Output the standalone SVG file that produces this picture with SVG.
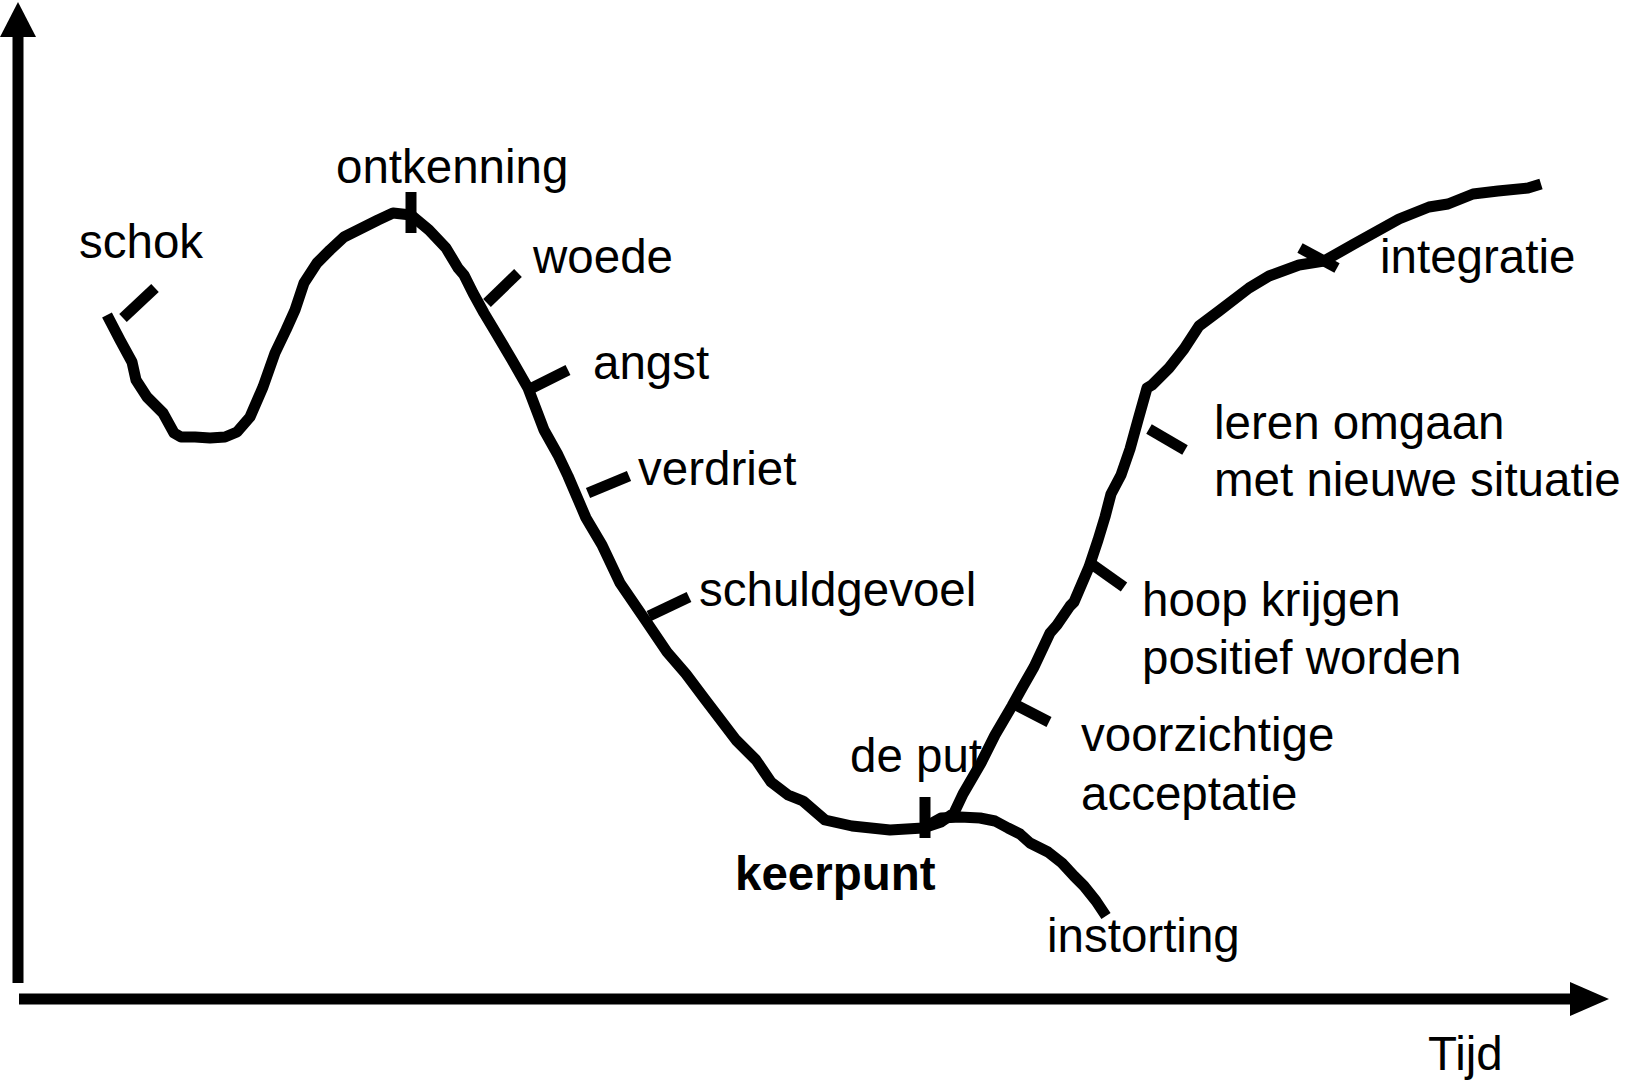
<svg xmlns="http://www.w3.org/2000/svg" width="1632" height="1081" viewBox="0 0 1632 1081">
<style>
.lbl{font-family:"Liberation Sans",Arial,sans-serif;font-size:47.5px;fill:#000}
.bold{font-weight:bold}
.curve{fill:none;stroke:#000;stroke-width:11;stroke-linejoin:round;stroke-linecap:butt}
.tick{stroke:#000;stroke-width:11;stroke-linecap:butt}
.axis{stroke:#000;stroke-width:11}
</style>
<rect width="1632" height="1081" fill="#fff"/>
<g id="labels">
<text class="lbl" x="79" y="258">schok</text>
<text class="lbl" x="336" y="183">ontkenning</text>
<text class="lbl" x="533" y="273">woede</text>
<text class="lbl" x="593" y="379">angst</text>
<text class="lbl" x="638" y="485">verdriet</text>
<text class="lbl" x="699" y="606">schuldgevoel</text>
<text class="lbl" x="1380" y="273">integratie</text>
<text class="lbl" x="1214" y="439">leren omgaan</text>
<text class="lbl" x="1214" y="496">met nieuwe situatie</text>
<text class="lbl" x="1142" y="616">hoop krijgen</text>
<text class="lbl" x="1142" y="674">positief worden</text>
<text class="lbl" x="1081" y="751">voorzichtige</text>
<text class="lbl" x="1081" y="810">acceptatie</text>
<text class="lbl" x="850" y="772">de put</text>
<text class="lbl bold" x="735" y="890">keerpunt</text>
<text class="lbl" x="1047" y="952">instorting</text>
<text class="lbl" x="1428" y="1070">Tijd</text>
</g>
<g id="axes">
<line class="axis" x1="18" y1="35" x2="18" y2="983"/>
<polygon points="18,2 0,37 36,37" fill="#000"/>
<line class="axis" x1="19" y1="999" x2="1572" y2="999"/>
<polygon points="1609,999 1570,982 1570,1016" fill="#000"/>
</g>
<g id="connectors">
<polyline class="curve" points="107,315 120,340 132,362 136,380 147,397 163,413 174,433 181,437 195,437 210,438 225,437 237,432 250,417 263,387 275,353 286,330 295,310 304,283 317,263 330,250 344,237 362,228 378,220 393,213 411,215 429,230 446,248 458,268 464,275 473,293 484,313 496,333 512,360 528,388 544,430 558,455 568,476 586,518 602,545 620,583 646,621 667,652 686,674 704,698 736,740 756,760 771,782 788,795 803,801 825,820 852,826 890,830 923,828 941,822 954,813 963,794 981,763 995,735 1012,706 1022,688 1034,667 1042,650 1050,633 1057,625 1070,606 1074,602 1089,567 1098,540 1105,517 1111,494 1121,475 1130,449 1138,420 1147,388 1152,385 1169,368 1184,349 1199,326 1219,311 1249,288 1269,276 1299,265 1324,261 1354,244 1399,219 1429,207 1448,204 1473,194 1498,191 1528,188 1541,184"/>
<polyline class="curve" points="923,828 941,818 960,817 980,818 995,821 1008,828 1020,834 1030,843 1048,852 1062,863 1074,876 1084,886 1096,901 1106,916"/>
</g>
<g id="ticks">
<line class="tick" x1="123" y1="318" x2="155" y2="288"/>
<line class="tick" x1="411" y1="192" x2="411" y2="233"/>
<line class="tick" x1="487" y1="303" x2="518" y2="273"/>
<line class="tick" x1="528" y1="390" x2="568" y2="370"/>
<line class="tick" x1="588" y1="493" x2="629" y2="476"/>
<line class="tick" x1="649" y1="616" x2="689" y2="597"/>
<line class="tick" x1="925" y1="797" x2="925" y2="838"/>
<line class="tick" x1="1016" y1="705" x2="1049" y2="722"/>
<line class="tick" x1="1093" y1="565" x2="1124" y2="587"/>
<line class="tick" x1="1149" y1="429" x2="1185" y2="450"/>
<line class="tick" x1="1300" y1="248" x2="1337" y2="268"/>
</g>
</svg>
